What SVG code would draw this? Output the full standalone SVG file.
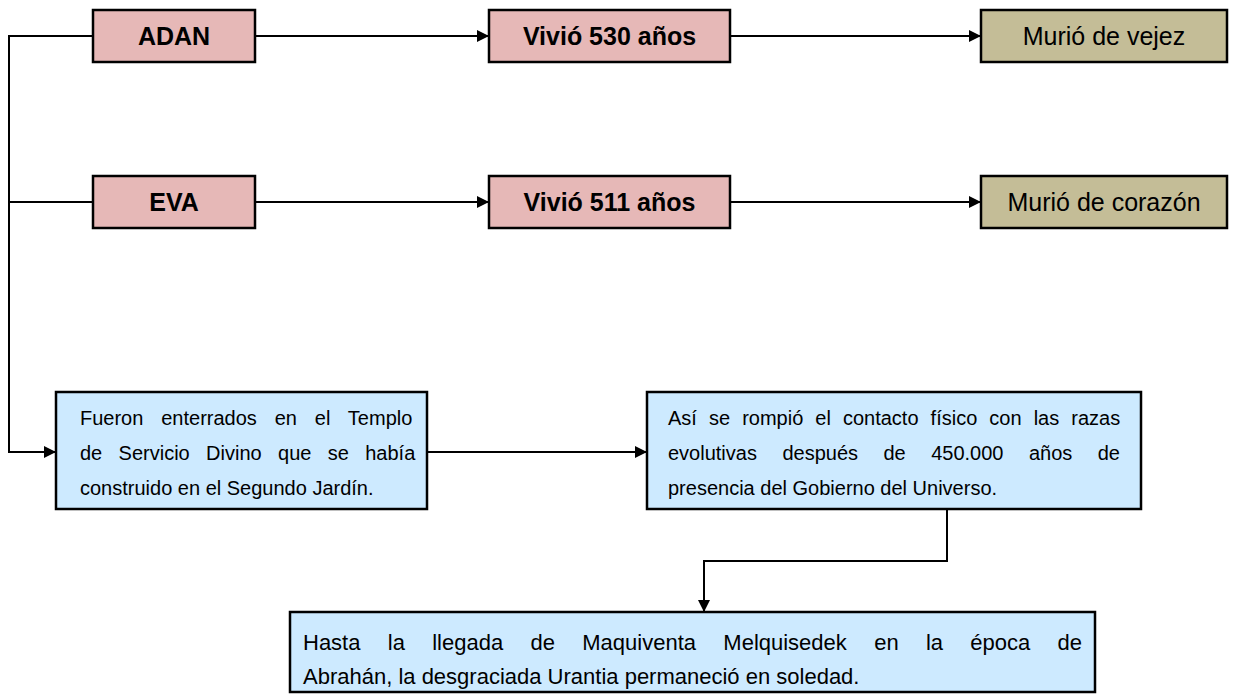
<svg xmlns="http://www.w3.org/2000/svg" width="1252" height="696" viewBox="0 0 1252 696">
<defs>
<marker id="arr" markerWidth="12" markerHeight="12" refX="12" refY="6" orient="auto" markerUnits="userSpaceOnUse" viewBox="0 0 12 12">
<path d="M0,0 L12,6 L0,12 z" fill="#000"/>
</marker>
<style>
.pink{fill:#e6b8b7;stroke:#000;stroke-width:2.5}
.khaki{fill:#c4bd97;stroke:#000;stroke-width:2.5}
.blue{fill:#cdeaff;stroke:#000;stroke-width:2.5}
.b{font-family:"Liberation Sans",Arial,sans-serif;font-size:25px;font-weight:bold;fill:#000}
.r{font-family:"Liberation Sans",Arial,sans-serif;font-size:25px;fill:#000}
.t{font-family:"Liberation Sans",Arial,sans-serif;font-size:20px;fill:#000}
.h{font-family:"Liberation Sans",Arial,sans-serif;font-size:22px;fill:#000}
.c{fill:none;stroke:#000;stroke-width:2}
</style>
</defs>
<rect width="1252" height="696" fill="#fff"/>
<g id="connectors">
<path class="c" d="M93,36 H9 V452 H56" marker-end="url(#arr)"/>
<path class="c" d="M9,202 H93"/>
<path class="c" d="M255,36 H489" marker-end="url(#arr)"/>
<path class="c" d="M730,36 H981" marker-end="url(#arr)"/>
<path class="c" d="M255,202 H489" marker-end="url(#arr)"/>
<path class="c" d="M730,202 H981" marker-end="url(#arr)"/>
<path class="c" d="M427,452 H647" marker-end="url(#arr)"/>
<path class="c" d="M947,509 V561 H704 V612" marker-end="url(#arr)"/>
</g>
<g id="adan">
<rect class="pink" x="93" y="10" width="162" height="52"/>
<text class="b" x="174" y="45" text-anchor="middle">ADAN</text>
</g>
<g id="vivio530">
<rect class="pink" x="489" y="10" width="241" height="52"/>
<text class="b" x="609.5" y="45" text-anchor="middle">Vivió 530 años</text>
</g>
<g id="murio-vejez">
<rect class="khaki" x="981" y="10" width="246" height="52"/>
<text class="r" x="1104" y="45" text-anchor="middle">Murió de vejez</text>
</g>
<g id="eva">
<rect class="pink" x="93" y="176" width="162" height="52"/>
<text class="b" x="174" y="211" text-anchor="middle">EVA</text>
</g>
<g id="vivio511">
<rect class="pink" x="489" y="176" width="241" height="52"/>
<text class="b" x="609.5" y="211" text-anchor="middle">Vivió 511 años</text>
</g>
<g id="murio-corazon">
<rect class="khaki" x="981" y="176" width="246" height="52"/>
<text class="r" x="1104" y="211" text-anchor="middle">Murió de corazón</text>
</g>
<g id="fueron">
<rect class="blue" x="56" y="392" width="371" height="117"/>
<text class="t" x="80" y="425" word-spacing="12.3">Fueron enterrados en el Templo</text>
<text class="t" x="80" y="460" word-spacing="10.8">de Servicio Divino que se había</text>
<text class="t" x="80" y="495">construido en el Segundo Jardín.</text>
</g>
<g id="asi">
<rect class="blue" x="647" y="392" width="494" height="117"/>
<text class="t" x="668" y="425" word-spacing="6.5">Así se rompió el contacto físico con las razas</text>
<text class="t" x="668" y="460" word-spacing="19.9">evolutivas después de 450.000 años de</text>
<text class="t" x="668" y="495">presencia del Gobierno del Universo.</text>
</g>
<g id="hasta">
<rect class="blue" x="290" y="612" width="805" height="80"/>
<text class="h" x="303" y="650" word-spacing="21.2">Hasta la llegada de Maquiventa Melquisedek en la época de</text>
<text class="h" x="303" y="684">Abrahán, la desgraciada Urantia permaneció en soledad.</text>
</g>
</svg>
